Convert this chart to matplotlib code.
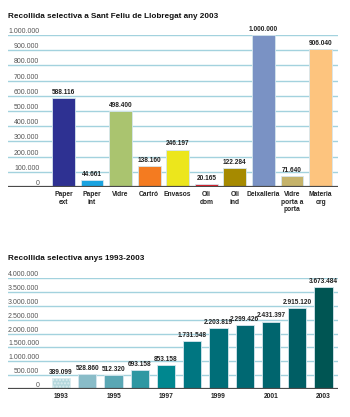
import matplotlib
matplotlib.use("Agg")
import matplotlib.pyplot as plt

plt.rcParams['font.family'] = ['Liberation Sans', 'DejaVu Sans']

# Dades: recollida selectiva 2003 (kg)
categories = ["Paper\next", "Paper\nint", "Vidre", "Cartró", "Envasos", "Oli\ndom",
              "Oli\nind", "Deixalleria", "Vidre\nporta a\nporta", "Materia\norg"]
valors_2003 = [588116, 44661, 498400, 138160, 246197, 20165, 122284, 1000000, 71640, 906040]
colors_2003 = ["#2e3192", "#1aa3e0", "#aac46f", "#f47b20", "#ece61c", "#e5202b",
               "#a68a00", "#7a92c4", "#c5b36a", "#fdc47e"]
ticks_2003 = [0, 100000, 200000, 300000, 400000, 500000, 600000, 700000, 800000, 900000, 1000000]

# Dades: evolució 1993-2003
anys = [1993, 1994, 1995, 1996, 1997, 1998, 1999, 2000, 2001, 2002, 2003]
valors_anys = [389099, 528860, 512320, 693158, 853158, 1731548, 2203819, 2299426,
               2431397, 2915120, 3673484]
colors_anys = ["#b5d8dd", "#89bcc8", "#5aa7b4", "#2e97a2", "#00878f", "#007681",
               "#006e78", "#006872", "#00656e", "#005e64", "#005553"]
ticks_anys = [0, 500000, 1000000, 1500000, 2000000, 2500000, 3000000, 3500000, 4000000]
anys_etiqueta = [1993, 1995, 1997, 1999, 2001, 2003]

GRID = "#a3d2de"
BASE = "#4a4a4a"


def fmt(v):
    return f"{v:,}".replace(",", ".")


def prepara_eix(ax, ticks):
    for s in ax.spines.values():
        s.set_visible(False)
    ax.set_yticks(ticks)
    ax.set_yticklabels([fmt(t) for t in ticks], fontsize=5, color="#555555")
    ax.tick_params(axis="y", length=0, pad=-22.5)
    for lbl in ax.get_yticklabels():
        lbl.set_va("bottom")
    ax.tick_params(axis="x", length=0)
    ax.set_ylim(0, ticks[-1])
    for t in ticks[1:]:
        ax.axhline(t, color=GRID, lw=1.0, zorder=0)
    ax.axhline(0, color=BASE, lw=1.6, zorder=3)


fig = plt.figure(figsize=(3.5, 4.17), dpi=100)

# --- Gràfic superior ---
ax1 = fig.add_axes([8 / 350, 0.5516, 330 / 350, 0.3645])
prepara_eix(ax1, ticks_2003)
x1 = list(range(len(categories)))
ax1.bar(x1, valors_2003, width=0.8, color=colors_2003, edgecolor="#d6e6ee",
        linewidth=0.6, zorder=2)
for x, v in zip(x1, valors_2003):
    ax1.annotate(fmt(v), (x, v), xytext=(0, 1.5), textcoords="offset points",
                 ha="center", va="bottom", fontsize=4.7, fontweight="bold",
                 color="#222222", clip_on=False)
ax1.set_xlim(-1.94, 9.61)
ax1.set_xticks(x1)
ax1.set_xticklabels(categories, fontsize=4.8, fontweight="bold", color="#222222",
                    linespacing=1.1, va="top")
ax1.tick_params(axis="x", pad=3)
fig.text(8 / 350, 1 - 16 / 417, "Recollida selectiva a Sant Feliu de Llobregat any 2003",
         fontsize=5.9, fontweight="bold", ha="left", va="center", color="#111111")

# --- Gràfic inferior ---
ax2 = fig.add_axes([8 / 350, 0.0671, 330 / 350, 0.2662])
prepara_eix(ax2, ticks_anys)
x2 = list(range(len(anys)))
barres = ax2.bar(x2, valors_anys, width=0.7, color=colors_anys, edgecolor="#d6e6ee",
                 linewidth=0.6, zorder=2)
barres[0].set_hatch(".....")
barres[0].set_edgecolor("#dcedf0")
for x, v in zip(x2, valors_anys):
    ax2.annotate(fmt(v), (x, v), xytext=(0, 1.5), textcoords="offset points",
                 ha="center", va="bottom", fontsize=4.7, fontweight="bold",
                 color="#222222", clip_on=False)
ax2.set_xlim(-2.02, 10.55)
ax2.set_xticks([anys.index(a) for a in anys_etiqueta])
ax2.set_xticklabels([str(a) for a in anys_etiqueta], fontsize=4.8, fontweight="bold",
                    color="#222222")
ax2.tick_params(axis="x", pad=3)
fig.text(8 / 350, 1 - 259 / 417, "Recollida selectiva anys 1993-2003",
         fontsize=5.9, fontweight="bold", ha="left", va="center", color="#111111")

fig.savefig("out.png", dpi=100)
